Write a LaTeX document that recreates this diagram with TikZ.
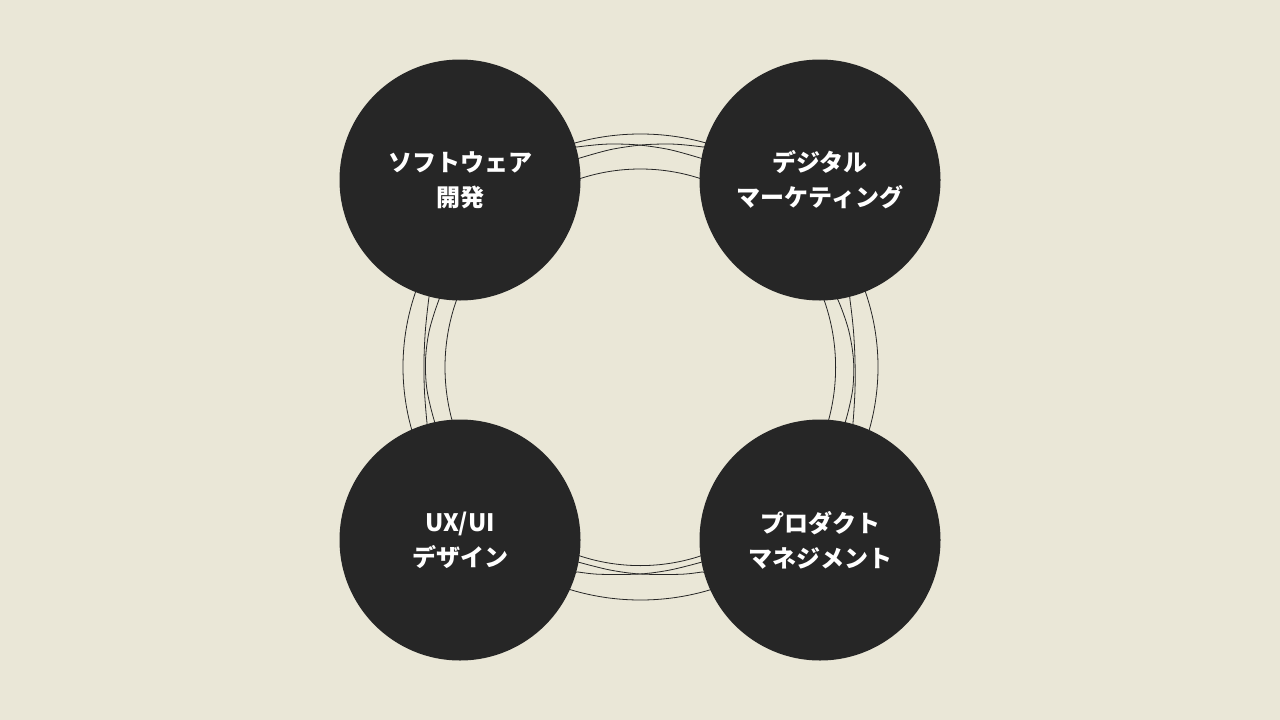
\documentclass[tikz,border=0pt]{standalone}
\usepackage{fontspec}
\setmainfont{Noto Sans CJK JP}
\definecolor{bgc}{HTML}{EAE7D7}
\definecolor{darkc}{HTML}{262626}
\begin{document}
\begin{tikzpicture}[x=1pt,y=-1pt,
  ring/.style={draw=darkc,line width=0.8pt},
  bigc/.style={circle,fill=darkc,minimum size=241pt,inner sep=0pt,
    text=white,align=center,font=\bfseries\fontsize{24}{35}\selectfont}]
\fill[bgc] (0,0) rectangle (1280,720);
\useasboundingbox (0,0) rectangle (1280,720);
% thin rings
\draw[ring] (640.5,367) ellipse [x radius=237.5pt, y radius=233pt];
\draw[ring] (640.3,367.3) ellipse [x radius=195.3pt, y radius=198.3pt];
\draw[ring] plot[smooth cycle] coordinates {(560,150.2) (577,147) (600,144.5) (616,144) (640,145.1) (670,149.7) (703,158.9) (720,165.3) (785,210) (821.6,270) (838,300) (848.6,330) (853.5,360) (852.6,390) (845,423) (833.6,450) (785,510) (720,568.8) (702,572) (680,574.3) (640,574) (610,570) (578,562) (560,555.9) (495,510) (430.7,450) (427,423) (424.4,390) (424,360) (425.4,330) (429,297) (433.6,270) (495,210)};
\draw[ring] plot[smooth cycle] coordinates {(560,165.3) (577,158.9) (610,149.7) (640,145.1) (664,144) (680,144.5) (703,147) (720,150.2) (795,200) (845,270) (850,300) (853.4,330) (855,360) (855,390) (853,423) (849.9,450) (795,515) (720,555.9) (702,562) (670,570) (640,574) (600,574.3) (578,572) (560,568.8) (490,515) (446.4,450) (435,423) (427,390) (425.5,360) (429.4,330) (440,297) (453.6,270) (485,205)};
% circles
\node[bigc] (sw) at (460,180) {ソフトウェア\\開発};
\node[bigc] (dm) at (820,180) {デジタル\\マーケティング};
\node[bigc] (ux) at (460,540) {UX/UI\\デザイン};
\node[bigc] (pm) at (820,540) {プロダクト\\マネジメント};
\end{tikzpicture}
\end{document}
